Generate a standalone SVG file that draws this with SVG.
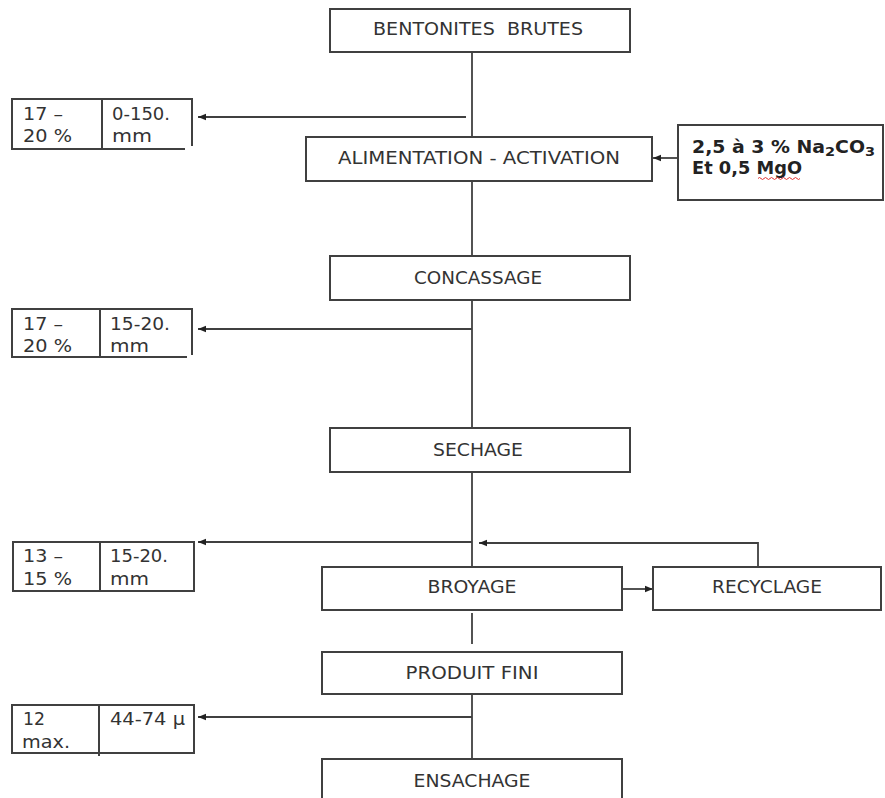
<svg xmlns="http://www.w3.org/2000/svg" width="885" height="798" viewBox="0 0 885 798">
<style>
.box{fill:#fff;stroke:#404040;stroke-width:2}
.ln{fill:none;stroke:#404040;stroke-width:1.8}
.t{font-family:"DejaVu Sans",Verdana,sans-serif;font-size:17px;fill:#333}
.c{text-anchor:middle}
.b{font-weight:bold;fill:#222}
.pre{white-space:pre}
</style>
<defs>
<marker id="ah" markerUnits="userSpaceOnUse" markerWidth="9" markerHeight="8" refX="8" refY="4" orient="auto">
<path d="M0,0.8 L8,4 L0,7.2 z" fill="#222"/>
</marker>
</defs>
<rect width="885" height="798" fill="#fff"/>

<g id="connectors">
<path class="ln" d="M472 52 V137"/>
<path class="ln" d="M472 181 V256"/>
<path class="ln" d="M472 300 V428"/>
<path class="ln" d="M472 472 V567"/>
<path class="ln" d="M472 613 V644"/>
<path class="ln" d="M472 694 V759"/>
<path class="ln" d="M466 117 H198" marker-end="url(#ah)"/>
<path class="ln" d="M472 329 H198" marker-end="url(#ah)"/>
<path class="ln" d="M472 542 H198" marker-end="url(#ah)"/>
<path class="ln" d="M472 717 H198" marker-end="url(#ah)"/>
<path class="ln" d="M758 567 V543 H479" marker-end="url(#ah)"/>
<path class="ln" d="M622 589 H653" marker-end="url(#ah)"/>
<path class="ln" d="M678 158 H653" marker-end="url(#ah)"/>
</g>

<g id="bentonites">
<rect class="box" x="330" y="9" width="300" height="43"/>
<text class="t c pre" x="478" y="35" textLength="210" lengthAdjust="spacingAndGlyphs">BENTONITES  BRUTES</text>
</g>

<g id="alimentation">
<rect class="box" x="306" y="137" width="346" height="44"/>
<text class="t c" x="479" y="164" textLength="282" lengthAdjust="spacingAndGlyphs">ALIMENTATION - ACTIVATION</text>
</g>

<g id="additifs">
<rect class="box" x="678" y="125" width="205" height="75"/>
<text class="t b" x="692" y="153" textLength="183" lengthAdjust="spacingAndGlyphs">2,5 à 3 % Na<tspan font-size="13" dy="3">2</tspan><tspan dy="-3">CO</tspan><tspan font-size="13" dy="3">3</tspan></text>
<text class="t b" x="692" y="174" textLength="110" lengthAdjust="spacingAndGlyphs">Et 0,5 MgO</text>
<path d="M758 178.5 q1.5 -2 3 0 t3 0 t3 0 t3 0 t3 0 t3 0 t3 0 t3 0 t3 0 t3 0 t3 0 t3 0 t3 0 t3 0" fill="none" stroke="#e03030" stroke-width="1"/>
</g>

<g id="concassage">
<rect class="box" x="330" y="256" width="300" height="44"/>
<text class="t c" x="478" y="284" textLength="128" lengthAdjust="spacingAndGlyphs">CONCASSAGE</text>
</g>

<g id="sechage">
<rect class="box" x="330" y="428" width="300" height="44"/>
<text class="t c" x="478" y="456" textLength="90" lengthAdjust="spacingAndGlyphs">SECHAGE</text>
</g>

<g id="broyage">
<rect class="box" x="322" y="567" width="300" height="43"/>
<text class="t c" x="472" y="593" textLength="89" lengthAdjust="spacingAndGlyphs">BROYAGE</text>
</g>

<g id="recyclage">
<rect class="box" x="653" y="567" width="228" height="43"/>
<text class="t c" x="767" y="593" textLength="110" lengthAdjust="spacingAndGlyphs">RECYCLAGE</text>
</g>

<g id="produit-fini">
<rect class="box" x="322" y="652" width="300" height="42"/>
<text class="t c" x="472" y="679" textLength="133" lengthAdjust="spacingAndGlyphs">PRODUIT FINI</text>
</g>

<g id="ensachage">
<rect class="box" x="322" y="759" width="300" height="45"/>
<text class="t c" x="472" y="787" textLength="117" lengthAdjust="spacingAndGlyphs">ENSACHAGE</text>
</g>

<g id="mesure-1">
<path class="ln" style="stroke-width:2" d="M185 149 H12 V99 H192 V146 M102 99 V149"/>
<text class="t" x="23" y="120" textLength="40" lengthAdjust="spacingAndGlyphs">17 –</text>
<text class="t" x="23" y="142" textLength="49" lengthAdjust="spacingAndGlyphs">20 %</text>
<text class="t" x="112" y="120" textLength="58" lengthAdjust="spacingAndGlyphs">0-150.</text>
<text class="t" x="112" y="142" textLength="40" lengthAdjust="spacingAndGlyphs">mm</text>
</g>

<g id="mesure-2">
<path class="ln" style="stroke-width:2" d="M187 357 H12 V309 H192 V355 M100 309 V357"/>
<text class="t" x="23" y="330" textLength="40" lengthAdjust="spacingAndGlyphs">17 –</text>
<text class="t" x="23" y="352" textLength="49" lengthAdjust="spacingAndGlyphs">20 %</text>
<text class="t" x="110" y="330" textLength="60" lengthAdjust="spacingAndGlyphs">15-20.</text>
<text class="t" x="110" y="352" textLength="39" lengthAdjust="spacingAndGlyphs">mm</text>
</g>

<g id="mesure-3">
<rect class="box" x="13" y="542" width="181" height="49"/>
<path class="ln" style="stroke-width:2" d="M100 542 V591"/>
<text class="t" x="23" y="562" textLength="40" lengthAdjust="spacingAndGlyphs">13 –</text>
<text class="t" x="23" y="585" textLength="49" lengthAdjust="spacingAndGlyphs">15 %</text>
<text class="t" x="110" y="562" textLength="58" lengthAdjust="spacingAndGlyphs">15-20.</text>
<text class="t" x="110" y="585" textLength="39" lengthAdjust="spacingAndGlyphs">mm</text>
</g>

<g id="mesure-4">
<rect class="box" x="12" y="705" width="182" height="48"/>
<path class="ln" style="stroke-width:2" d="M99 705 V756"/>
<text class="t" x="23" y="725" textLength="22" lengthAdjust="spacingAndGlyphs">12</text>
<text class="t" x="22" y="748" textLength="48" lengthAdjust="spacingAndGlyphs">max.</text>
<text class="t" x="110" y="725" textLength="75" lengthAdjust="spacingAndGlyphs">44-74 µ</text>
</g>
</svg>
